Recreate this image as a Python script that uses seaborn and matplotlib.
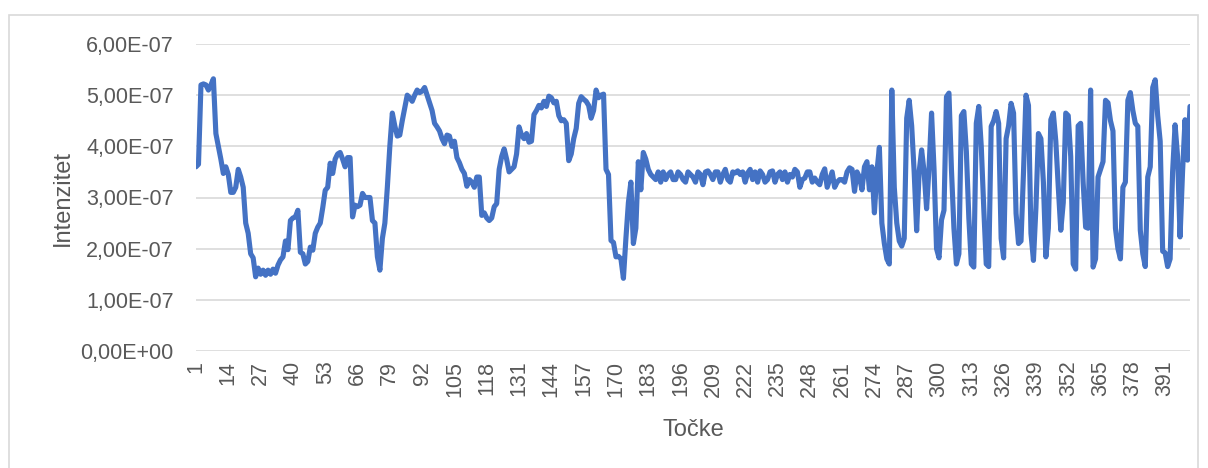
import matplotlib
matplotlib.use("Agg")
import matplotlib.pyplot as plt
from matplotlib.patches import Rectangle
from matplotlib.ticker import FuncFormatter
import seaborn as sns
import pandas as pd

# Intensity values (units of 1e-7)
seg1 = [3.6, 3.65, 5.2, 5.22, 5.2, 5.1, 5.2, 5.32, 4.25, 4.0, 3.75, 3.47, 3.6, 3.45, 3.1, 3.1, 3.2, 3.55, 3.4, 3.2,
        2.5, 2.3, 1.9, 1.82, 1.45, 1.62, 1.5, 1.58, 1.48, 1.58, 1.5, 1.6, 1.52, 1.68, 1.78, 1.84, 2.15, 1.98]
seg2 = [2.55, 2.6, 2.62, 2.75, 1.93, 1.9, 1.7, 1.75, 2.03, 1.97, 2.3, 2.42, 2.5, 2.8, 3.14, 3.2, 3.67, 3.47, 3.75, 3.85,
        3.88, 3.75, 3.6, 3.78, 3.78, 2.62, 2.85, 2.82, 2.85, 3.08, 3.0, 3.0, 3.0, 2.55, 2.5, 1.84, 1.58, 2.2, 2.5, 3.2, 4.0]
seg3 = [4.65, 4.4, 4.2, 4.22, 4.5, 4.75, 5.0, 4.95, 4.88, 5.0, 5.1, 5.05, 5.08, 5.15, 5.0, 4.85, 4.7, 4.45, 4.38, 4.3,
        4.15, 4.05, 4.22, 4.2, 4.0, 4.1, 3.78, 3.68, 3.55, 3.47, 3.22, 3.35, 3.3, 3.2, 3.4, 3.4, 2.65, 2.7, 2.6, 2.55]
seg4 = [2.6, 2.82, 2.88, 3.55, 3.8, 3.95, 3.75, 3.5, 3.55, 3.6, 3.85, 4.38, 4.22, 4.15, 4.25, 4.08, 4.1, 4.62, 4.7, 4.8,
        4.75, 4.88, 4.78, 4.98, 4.95, 4.85, 4.88, 4.6, 4.5, 4.52, 4.45, 3.72, 3.85, 4.15, 4.35, 4.84, 4.97, 4.92, 4.88, 4.8, 4.55]
seg5 = [4.7, 5.1, 4.95, 5.0, 5.02, 3.55, 3.45, 2.16, 2.12, 1.84, 1.85, 1.8, 1.42, 2.2, 2.9, 3.3, 2.1, 2.4, 3.7, 3.15,
        3.88, 3.75, 3.55, 3.45, 3.4, 3.35, 3.5, 3.3, 3.5, 3.35, 3.45, 3.5, 3.35, 3.35, 3.5, 3.45, 3.35, 3.3, 3.5, 3.45]
seg6 = [3.4, 3.3, 3.5, 3.45, 3.25, 3.5, 3.52, 3.45, 3.35, 3.5, 3.5, 3.3, 3.45, 3.55, 3.35, 3.3, 3.5, 3.48, 3.52, 3.45,
        3.5, 3.3, 3.48, 3.55, 3.35, 3.5, 3.3, 3.52, 3.45, 3.3, 3.35, 3.5, 3.52, 3.3, 3.45, 3.5, 3.35, 3.5, 3.3, 3.45]
seg7 = [3.4, 3.55, 3.5, 3.2, 3.35, 3.38, 3.5, 3.5, 3.3, 3.38, 3.3, 3.25, 3.45, 3.56, 3.2, 3.35, 3.5, 3.2, 3.3, 3.35,
        3.35, 3.3, 3.5, 3.58, 3.55, 3.12, 3.5, 3.4, 3.15, 3.6, 3.7, 3.15, 3.6, 2.7, 3.5, 3.98, 2.5, 2.1, 1.8, 1.7, 5.1]
seg8 = [3.2, 2.5, 2.15, 2.05, 2.2, 4.55, 4.9, 4.4, 3.5, 2.35, 3.5, 3.93, 3.5, 2.78, 3.6, 4.65, 3.55, 2.0, 1.82, 2.56,
        2.75, 4.97, 5.04, 3.55, 2.4, 1.7, 1.9, 4.6, 4.68, 3.9, 2.6, 1.7, 1.64, 4.45, 4.78, 4.0, 2.8, 1.7, 1.65, 4.39]
seg9 = [4.5, 4.68, 4.45, 2.2, 1.82, 4.15, 4.4, 4.84, 4.65, 2.69, 2.1, 2.15, 3.5, 5.0, 4.8, 2.3, 1.77, 2.8, 4.25, 4.15,
        3.3, 1.84, 2.4, 4.52, 4.65, 4.1, 3.2, 2.36, 2.9, 4.65, 4.6, 3.8, 1.7, 1.6, 4.4, 4.45, 3.3, 2.42, 2.4, 5.1]
seg10 = [1.64, 1.8, 3.4, 3.55, 3.7, 4.9, 4.85, 4.5, 4.3, 2.4, 2.0, 1.8, 3.2, 3.3, 4.9, 5.05, 4.7, 4.45, 4.39, 2.36,
         1.9, 1.65, 3.4, 3.6, 5.15, 5.3, 4.6, 4.1, 1.95, 1.92, 1.65, 1.8, 3.5, 4.42, 3.8, 2.23, 3.5, 4.52, 3.73, 4.78]

intenzitet_e7 = seg1 + seg2 + seg3 + seg4 + seg5 + seg6 + seg7 + seg8 + seg9 + seg10
tocke = list(range(1, len(intenzitet_e7) + 1))
x_tick_labels = list(range(1, len(tocke) + 1, 13))
y_ticks = [0, 1e-7, 2e-7, 3e-7, 4e-7, 5e-7, 6e-7]

df = pd.DataFrame({"Točke": tocke, "Intenzitet": [v * 1e-7 for v in intenzitet_e7]})

sns.set_theme(style="white")
plt.rcParams["font.family"] = ["Liberation Sans", "DejaVu Sans"]

fig = plt.figure(figsize=(12.08, 4.68), dpi=100)
ax = fig.add_axes([196 / 1208, 1 - 351 / 468, (1190 - 196) / 1208, (351 - 44) / 468])

sns.lineplot(data=df, x="Točke", y="Intenzitet", ax=ax, color="#4472C4", linewidth=3.7)

ax.set_xlim(1, len(tocke))
ax.set_ylim(0, 6e-7)
ax.set_yticks(y_ticks)
ax.yaxis.set_major_formatter(FuncFormatter(lambda v, p: f"{v:.2E}".replace(".", ",")))
ax.set_xticks(x_tick_labels)
ax.set_xticklabels([str(t) for t in x_tick_labels], rotation=90)

ax.grid(axis="y", color="#d9d9d9", linewidth=1.2)
ax.grid(axis="x", visible=False)
ax.set_axisbelow(True)
for s in ax.spines.values():
    s.set_visible(False)

ax.tick_params(axis="both", length=0, labelsize=15.5, labelcolor="#595959")
ax.tick_params(axis="y", pad=16)
ax.tick_params(axis="x", pad=7)

ax.set_xlabel("Točke", fontsize=17, color="#595959", labelpad=16)
ax.set_ylabel("Intenzitet", fontsize=17, color="#595959", labelpad=5)

fig.patches.append(Rectangle((9 / 1208, -0.01), (1198 - 9) / 1208, (468 - 15) / 468 + 0.01,
                             transform=fig.transFigure, fill=False, edgecolor="#d9d9d9", linewidth=1.2))

fig.savefig("out.png", dpi=100)
